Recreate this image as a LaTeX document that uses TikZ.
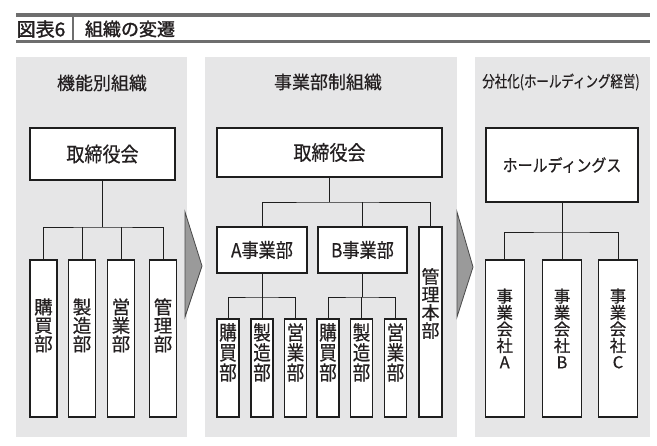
\documentclass[tikz,border=0pt]{standalone}
\usepackage{graphicx}
\usepackage{fontspec}
\setmainfont{Noto Sans CJK JP}
\newfontfamily\jp{Noto Sans CJK JP}[FakeBold=0.5]
\newfontfamily\jpb{Noto Sans CJK JP}[FakeBold=1.6]
\newfontfamily\jpc{Noto Sans CJK JP}[FakeStretch=0.88,FakeBold=0.5]
\definecolor{barcol}{HTML}{6E6E6E}
\definecolor{panelcol}{HTML}{E6E6E7}
\definecolor{linecol}{HTML}{1E1E1E}
\definecolor{txtcol}{HTML}{231F20}
\definecolor{arrowfill}{HTML}{9A9A9A}
\definecolor{arrowline}{HTML}{4A4A4A}
\tikzset{
  orgbox/.style={draw=linecol, line width=1.1pt, fill=white, inner sep=0pt},
  conn/.style={draw=linecol, line width=0.9pt},
  paneltitle/.style={text=txtcol, inner sep=0pt, font=\jp\fontsize{18}{18}\selectfont},
  boxlabel/.style={text=txtcol, inner sep=0pt},
  vlabel/.style={text=txtcol, inner sep=0pt, align=center},
  panel/.style={fill=panelcol},
  chevron/.style={fill=arrowfill, draw=arrowline, line width=0.8pt, line join=miter},
}
\begin{document}
\begin{tikzpicture}[x=1pt,y=-1pt]
\useasboundingbox[fill=white] (0,0) rectangle (657,446);
% title bar
\fill[barcol] (16,13.3) rectangle (650,16.8);
\fill[barcol] (16,39.8) rectangle (650,43.3);
\fill[barcol] (71.7,16.8) rectangle (74,39.8);
\node[text=txtcol, inner sep=0pt, font=\jpb\fontsize{19}{19}\selectfont] (fig) at (41,29) {図表6};
\node[text=txtcol, inner sep=0pt, font=\jpb\fontsize{18}{18}\selectfont] (figtitle) at (130,29) {組織の変遷};
% panels
\fill[panel] (16,57) rectangle (187,437);
\fill[panel] (205,57) rectangle (457,437);
\fill[panel] (475,57) rectangle (650,437);
% chevrons
\filldraw[chevron] (185,212) -- (202,266) -- (185,317) -- cycle;
\filldraw[chevron] (457,212) -- (473,267) -- (457,317) -- cycle;

% ---------- panel 1 ----------
\node[paneltitle] (t1) at (102,83) {機能別組織};
\node[orgbox, minimum width=145pt, minimum height=52pt] (p1top) at (102.5,154) {};
\node[boxlabel, font=\jpc\fontsize{20.5}{20.5}\selectfont] at (p1top.center) {取締役会};
\foreach \n/\x in {1/43.5,2/82,3/121,4/163}{
  \node[orgbox, minimum width=27pt, minimum height=157pt] (p1c\n) at (\x,338.5) {};
}
\coordinate (j1) at (102.5,227);
\draw[conn] (p1top.south) -- (j1);
\draw[conn] (p1c1.north) |- (j1) -| (p1c4.north);
\draw[conn] (p1c2.north) -- (p1c2.north |- j1);
\draw[conn] (p1c3.north) -- (p1c3.north |- j1);
\foreach \n/\t in {1/購\\買\\部,2/製\\造\\部,3/営\\業\\部,4/管\\理\\部}{
  \node[vlabel, font=\jp\fontsize{18.5}{18.5}\selectfont] at ([yshift=-66pt]p1c\n.north) {\t};
}

% ---------- panel 2 ----------
\node[paneltitle] (t2) at (328,82) {事業部制組織};
\node[orgbox, minimum width=225pt, minimum height=49pt] (p2top) at (329.5,152.5) {};
\node[boxlabel, font=\jpc\fontsize{20.5}{20.5}\selectfont] at (p2top.center) {取締役会};
\node[orgbox, minimum width=90pt, minimum height=46pt] (divA) at (262,250) {};
\node[boxlabel, font=\jpc\fontsize{19.5}{19.5}\selectfont] at (divA.center) {A事業部};
\node[orgbox, minimum width=89pt, minimum height=46pt] (divB) at (362.5,250) {};
\node[boxlabel, font=\jpc\fontsize{19.5}{19.5}\selectfont] at (divB.center) {B事業部};
\node[orgbox, minimum width=23pt, minimum height=190pt] (hq) at (430.5,322) {};
\node[vlabel, font=\jp\fontsize{18}{18}\selectfont] at ([yshift=-77pt]hq.north) {管\\理\\本\\部};
\coordinate (j2) at (329.5,202);
\draw[conn] (p2top.south) -- (j2);
\draw[conn] (divA.north) |- (j2) -| (hq.north);
\draw[conn] (divB.north) -- (divB.north |- j2);
\foreach \n/\x in {1/228,2/262,3/295.5}{
  \node[orgbox, minimum width=22pt, minimum height=98pt] (a\n) at (\x,368) {};
}
\foreach \n/\x in {1/328,2/361.5,3/395.5}{
  \node[orgbox, minimum width=22pt, minimum height=98pt] (b\n) at (\x,368) {};
}
\coordinate (ja) at (262,297);
\coordinate (jb) at (362.5,297);
\draw[conn] (divA.south) -- (ja);
\draw[conn] (a1.north) |- (ja) -| (a3.north);
\draw[conn] (a2.north) -- (a2.north |- ja);
\draw[conn] (divB.south) -- (jb);
\draw[conn] (b1.north) |- (jb) -| (b3.north);
\draw[conn] (b2.north) -- (b2.north |- jb);
\foreach \n/\t in {a1/購\\買\\部,a2/製\\造\\部,a3/営\\業\\部,b1/購\\買\\部,b2/製\\造\\部,b3/営\\業\\部}{
  \node[vlabel, font=\jpc\fontsize{20}{20}\selectfont] at ([yshift=-34pt]\n.north) {\t};
}

% ---------- panel 3 ----------
\node[text=txtcol, inner sep=0pt, font=\jp\fontsize{16}{16}\selectfont] (t3) at (561,82) {\scalebox{0.78}[1]{分社化(ホールディング経営)}};
\node[orgbox, minimum width=152pt, minimum height=74pt] (hd) at (562,165) {};
\node[boxlabel, font=\jpc\fontsize{17}{17}\selectfont] at (hd.center) {ホールディングス};
\foreach \n/\x in {1/504.7,2/562,3/618}{
  \node[orgbox, minimum width=39pt, minimum height=157pt] (co\n) at (\x,338.5) {};
}
\coordinate (j3) at (562,232);
\draw[conn] (hd.south) -- (j3);
\draw[conn] (co1.north) |- (j3) -| (co3.north);
\draw[conn] (co2.north) -- (co2.north |- j3);
\foreach \n/\t in {1/事\\業\\会\\社\\A,2/事\\業\\会\\社\\B,3/事\\業\\会\\社\\C}{
  \node[vlabel, font=\jp\fontsize{16.5}{16.5}\selectfont] at ([yshift=-69pt]co\n.north) {\t};
}
\end{tikzpicture}
\end{document}
